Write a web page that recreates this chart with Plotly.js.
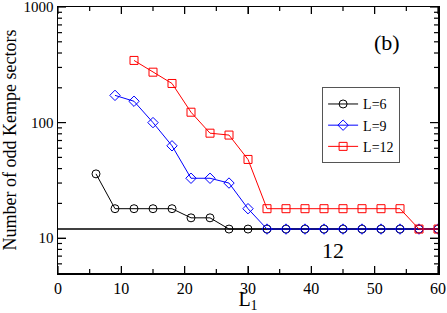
<!DOCTYPE html>
<html>
<head>
<script src="https://cdn.plot.ly/plotly-3.0.1.min.js"></script>
<style>body{margin:0;background:#fff}#chart{width:447px;height:313px}</style>
</head>
<body>
<div id="chart"></div>
<script>
const xL6 = [6, 9, 12, 15, 18, 21, 24, 27, 30, 33, 36, 39, 42, 45, 48, 51, 54, 57, 60];
const yL6 = [36, 18, 18, 18, 18, 15, 15, 12, 12, 12, 12, 12, 12, 12, 12, 12, 12, 12, 12];
const xL9 = [9, 12, 15, 18, 21, 24, 27, 30, 33, 36, 39, 42, 45, 48, 51, 54, 57, 60];
const yL9 = [172, 153, 100, 63, 33, 33, 30, 18, 12, 12, 12, 12, 12, 12, 12, 12, 12, 12];
const xL12 = [12, 15, 18, 21, 24, 27, 30, 33, 36, 39, 42, 45, 48, 51, 54, 57, 60];
const yL12 = [345, 273, 218, 123, 81, 78, 48, 18, 18, 18, 18, 18, 18, 18, 18, 12, 12];
const names = ["L=6", "L=9", "L=12"];
const refValue = 12;
const xRange = [0, 60];
const yRange = [5, 1000];
const xMajorTicks = [0, 10, 20, 30, 40, 50, 60];
const xMinorTicks = [5, 15, 25, 35, 45, 55];
const yMajorTicks = [10, 100, 1000];
const yMinorTicks = [6, 7, 8, 9, 20, 30, 40, 50, 60, 70, 80, 90, 200, 300, 400, 500, 600, 700, 800, 900];

const serif = "Liberation Serif, Times New Roman, serif";
const W = 447, H = 313, M = {l: 58, r: 9, t: 7, b: 40};
const plotW = W - M.l - M.r, plotH = H - M.t - M.b;

const traces = [
  {x: xL6, y: yL6, name: names[0], mode: "lines+markers",
   line: {color: "#000000", width: 1},
   marker: {symbol: "circle-open", size: 8, color: "#000000", line: {width: 1}}},
  {x: xL9, y: yL9, name: names[1], mode: "lines+markers",
   line: {color: "#0000ff", width: 1},
   marker: {symbol: "diamond-open", size: 8, color: "#0000ff", line: {width: 1}}},
  {x: xL12, y: yL12, name: names[2], mode: "lines+markers",
   line: {color: "#ff0000", width: 1},
   marker: {symbol: "square-open", size: 8, color: "#ff0000", line: {width: 1}}}
];

// inside tick marks on all four sides, placed on the axis scales
const tickShapes = [];
function xTick(v, len) {
  const f = len / plotH;
  tickShapes.push({type: "line", xref: "x", x0: v, x1: v, yref: "paper", y0: 0, y1: f,
    line: {color: "#000", width: 1.2}, layer: "above"});
  tickShapes.push({type: "line", xref: "x", x0: v, x1: v, yref: "paper", y0: 1 - f, y1: 1,
    line: {color: "#000", width: 1.2}, layer: "above"});
}
function yTick(v, len) {
  const f = len / plotW;
  tickShapes.push({type: "line", yref: "y", y0: v, y1: v, xref: "paper", x0: 0, x1: f,
    line: {color: "#000", width: 1.2}, layer: "above"});
  tickShapes.push({type: "line", yref: "y", y0: v, y1: v, xref: "paper", x0: 1 - f, x1: 1,
    line: {color: "#000", width: 1.2}, layer: "above"});
}
xMajorTicks.forEach(v => xTick(v, 7));
xMinorTicks.forEach(v => xTick(v, 4));
yMajorTicks.forEach(v => yTick(v, 8));
yMinorTicks.forEach(v => yTick(v, 4));

const layout = {
  width: W, height: H,
  margin: M,
  paper_bgcolor: "#fff", plot_bgcolor: "#fff",
  font: {family: serif, color: "#000", size: 16},
  showlegend: true,
  legend: {x: 0.695, y: 0.555, xanchor: "left", yanchor: "middle",
    bgcolor: "#fff", bordercolor: "#555", borderwidth: 1,
    font: {family: serif, size: 14}, tracegroupgap: 0, itemwidth: 30},
  xaxis: {range: xRange, tickmode: "array", tickvals: xMajorTicks, ticktext: xMajorTicks.map(String),
    ticks: "inside", ticklen: 7, tickwidth: 1, tickcolor: "#000",
    showgrid: false, zeroline: false, showline: true, linewidth: 1.5, linecolor: "#000",
    mirror: "allticks", tickfont: {family: serif, size: 16},
    title: {text: "L<sub>1</sub>", font: {family: serif, size: 20}, standoff: 10}},
  yaxis: {type: "log", range: [Math.log10(yRange[0]), Math.log10(yRange[1])],
    tickmode: "array", tickvals: yMajorTicks, ticktext: yMajorTicks.map(String),
    ticks: "inside", ticklen: 8, tickwidth: 1, tickcolor: "#000", ticklabeloverflow: "allow",
    showgrid: false, zeroline: false, showline: true, linewidth: 1.5, linecolor: "#000",
    mirror: "allticks", tickfont: {family: serif, size: 15},
    title: {text: "Number of odd Kempe sectors", font: {family: serif, size: 18}, standoff: 2}},
  shapes: [{type: "line", xref: "paper", x0: 0, x1: 1, yref: "y", y0: refValue, y1: refValue,
    line: {color: "#000", width: 1.5}, layer: "below"}].concat(tickShapes),
  annotations: [
    {xref: "x", yref: "paper", x: 43.4, y: 0.085, xanchor: "center", yanchor: "middle",
     text: String(refValue), showarrow: false, font: {family: serif, size: 22}},
    {xref: "paper", yref: "paper", x: 0.866, y: 0.865, xanchor: "center", yanchor: "middle",
     text: "(b)", showarrow: false, font: {family: serif, size: 22}}
  ]
};
Plotly.newPlot("chart", traces, layout, {displayModeBar: false, staticPlot: true});
</script>
</body>
</html>
